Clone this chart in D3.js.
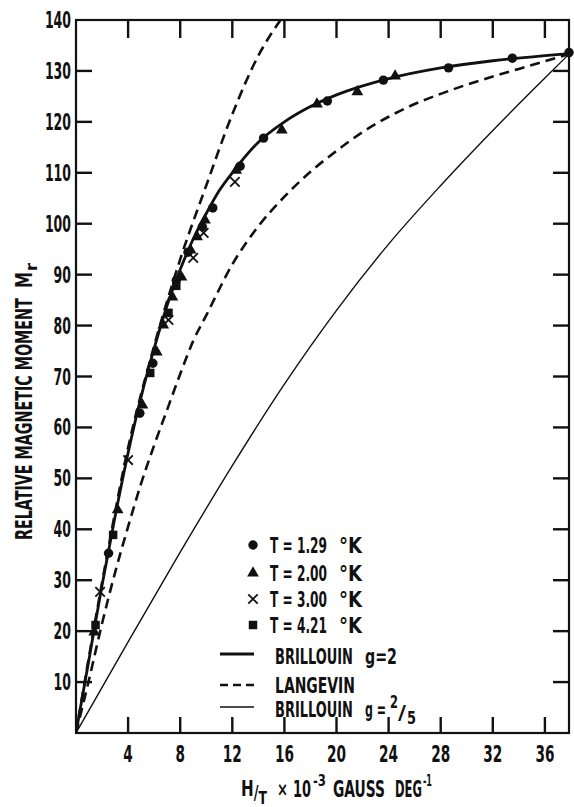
<!DOCTYPE html>
<html>
<head>
<meta charset="utf-8">
<script src="https://cdn.jsdelivr.net/npm/d3@7"></script>
<style>
  body { margin: 0; background: #fff; }
  text { font-family: "DejaVu Sans Condensed", "DejaVu Sans", sans-serif; font-weight: bold; fill: #111; }
</style>
</head>
<body>
<div id="chart"></div>
<script>
// tick values
const xTicks = [4, 8, 12, 16, 20, 24, 28, 32, 36];
const yTicks = [10, 20, 30, 40, 50, 60, 70, 80, 90, 100, 110, 120, 130, 140];

// theoretical curves
const brillouin2X = [0, 1, 2, 3, 4, 5, 6, 7, 8, 9, 10, 11, 12, 14, 16, 18, 20, 24, 28, 32, 36, 37.85];
const brillouin2Y = [0, 14.5, 29, 42.5, 55, 66, 75.5, 84, 91, 97, 102, 106.5, 110, 116, 120, 123, 125.3, 128.5, 130.6, 132, 133, 133.4];

const steepDashX = [0, 2, 4, 6, 8, 10, 12, 14, 15.7];
const steepDashY = [0, 29.5, 56, 76, 93, 107.5, 121.5, 133, 140];

const langevinX = [0, 1, 2, 3, 4, 5, 6, 7, 8, 9, 10, 12, 14, 16, 18, 20, 22, 24, 26, 28, 30, 32, 34, 36, 37.85];
const langevinY = [0, 10.5, 21.5, 31.5, 40.5, 49, 56.5, 63.5, 70.5, 77, 82, 92, 99.5, 105.3, 110.2, 114.3, 118, 121, 123.5, 125.5, 127.3, 128.9, 130.4, 131.9, 133.3];

const brillouin25X = [0, 4, 8, 12, 16, 20, 24, 28, 32, 36, 37.85];
const brillouin25Y = [0, 17.9, 35.5, 52.5, 68.5, 83, 96, 107.5, 118.3, 128.6, 133.3];

// measured points
const t129X = [2.5, 4.9, 5.9, 7.7, 8.6, 9.7, 10.5, 12.6, 14.4, 19.3, 23.6, 28.6, 33.5, 37.85];
const t129Y = [35.3, 62.8, 72.6, 88.9, 94.4, 99.4, 103.1, 111.3, 116.8, 124.1, 128.2, 130.6, 132.5, 133.6];

const t200X = [1.4, 3.2, 5.1, 6.2, 6.7, 7.4, 8.1, 8.8, 9.3, 9.9, 12.3, 15.8, 18.5, 21.6, 24.5];
const t200Y = [19.8, 43.8, 64.4, 74.8, 80.1, 85.6, 89.5, 94.8, 97.4, 100.7, 110.5, 118.4, 123.5, 125.9, 129.0];

const t300X = [1.85, 4.0, 7.1, 9.0, 9.8, 12.2];
const t300Y = [27.7, 53.6, 81.1, 93.3, 98.2, 108.2];

const t421X = [1.5, 2.85, 5.7, 7.1, 7.7];
const t421Y = [21.2, 38.9, 70.7, 82.5, 87.8];

const legendTemps = ["T = 1.29", "T = 2.00", "T = 3.00", "T = 4.21"];

const width = 574, height = 807;
const plotL = 76, plotR = 569, plotT = 20, plotB = 733;

const svg = d3.select("#chart").append("svg")
    .attr("width", width)
    .attr("height", height);

const x = d3.scaleLinear().domain([0, 37.85]).range([plotL, plotR]);
const y = d3.scaleLinear().domain([0, 140]).range([plotB, plotT]);

const zip = (xs, ys) => xs.map((v, i) => [v, ys[i]]);

// narrow lettering: put the text at (px,py) and squeeze it to width w
const label = (g, str, px, py, size, w, anchor = "start") => {
    const t = g.append("text")
        .attr("text-anchor", anchor)
        .style("font-size", size + "px")
        .text(str);
    const L = t.node().getComputedTextLength();
    t.attr("transform", `translate(${px},${py}) scale(${w / L},1)`);
    return t;
};

// inward ticks on all four sides
const tickLen = 16;
const ticks = svg.append("g");
const tick = (x1, y1, x2, y2) => ticks.append("line")
    .attr("x1", x1).attr("y1", y1).attr("x2", x2).attr("y2", y2)
    .attr("stroke", "#111").attr("stroke-width", 2.4);
xTicks.forEach(v => {
    tick(x(v), plotB, x(v), plotB - tickLen);
    tick(x(v), plotT, x(v), plotT + tickLen + 2);
});
yTicks.slice(0, -1).forEach(v => {
    tick(plotL, y(v), plotL + tickLen, y(v));
    tick(plotR, y(v), plotR - tickLen, y(v));
});

// tick labels
const tickLabels = svg.append("g");
xTicks.forEach(v => label(tickLabels, String(v), x(v), plotB + 29, 23, String(v).length * 9.5, "middle"));
yTicks.forEach(v => label(tickLabels, String(v), plotL - 5, y(v) + 8, 23, String(v).length * 8.7, "end"));

// frame
svg.append("rect")
    .attr("x", plotL).attr("y", plotT)
    .attr("width", plotR - plotL).attr("height", plotB - plotT)
    .attr("fill", "none")
    .attr("stroke", "#111")
    .attr("stroke-width", 2.2);

// curves
const line = d3.line()
    .x(d => x(d[0]))
    .y(d => y(d[1]))
    .curve(d3.curveMonotoneX);

svg.append("clipPath").attr("id", "clip")
    .append("rect")
    .attr("x", plotL).attr("y", plotT)
    .attr("width", plotR - plotL).attr("height", plotB - plotT);

const curves = svg.append("g").attr("clip-path", "url(#clip)");

curves.append("path")
    .attr("d", line(zip(brillouin25X, brillouin25Y)))
    .attr("fill", "none").attr("stroke", "#111").attr("stroke-width", 1.4);

curves.append("path")
    .attr("d", line(zip(langevinX, langevinY)))
    .attr("fill", "none").attr("stroke", "#111").attr("stroke-width", 2.6)
    .attr("stroke-dasharray", "10,6");

curves.append("path")
    .attr("d", line(zip(steepDashX, steepDashY)))
    .attr("fill", "none").attr("stroke", "#111").attr("stroke-width", 2.6)
    .attr("stroke-dasharray", "10,6");

curves.append("path")
    .attr("d", line(zip(brillouin2X, brillouin2Y)))
    .attr("fill", "none").attr("stroke", "#111").attr("stroke-width", 2.8);

// markers
const symbols = [
    { xs: t129X, ys: t129Y, type: d3.symbolCircle, size: 70, stroke: false },
    { xs: t200X, ys: t200Y, type: d3.symbolTriangle, size: 60, stroke: false },
    { xs: t300X, ys: t300Y, type: d3.symbolTimes, size: 60, stroke: true },
    { xs: t421X, ys: t421Y, type: d3.symbolSquare, size: 72, stroke: false }
];

const drawSymbol = (g, s, px, py) => {
    g.append("path")
        .attr("transform", `translate(${px},${py})`)
        .attr("d", d3.symbol().type(s.type).size(s.size)())
        .attr("fill", s.stroke ? "none" : "#111")
        .attr("stroke", s.stroke ? "#111" : "none")
        .attr("stroke-width", 1.8);
};

symbols.forEach(s => {
    zip(s.xs, s.ys).forEach(d => drawSymbol(svg, s, x(d[0]), y(d[1])));
});

// legend
const legend = svg.append("g");
const legendY = [545, 573, 599, 625];
symbols.forEach((s, i) => {
    drawSymbol(legend, s, 253, legendY[i]);
    label(legend, legendTemps[i], 270, legendY[i] + 8, 22, 57);
    label(legend, "°K", 339, legendY[i] + 8, 22, 23);
});

const lineRows = [
    { y: 654, w: 2.8, dash: null },
    { y: 685, w: 2.4, dash: "8,5" },
    { y: 707, w: 1.4, dash: null }
];
lineRows.forEach(r => {
    legend.append("line")
        .attr("x1", 220).attr("x2", 254)
        .attr("y1", r.y).attr("y2", r.y)
        .attr("stroke", "#111").attr("stroke-width", r.w)
        .attr("stroke-dasharray", r.dash);
});

label(legend, "BRILLOUIN", 275, 664, 22, 78);
label(legend, "g=2", 365, 664, 22, 32);
label(legend, "LANGEVIN", 275, 693, 22, 80);
label(legend, "BRILLOUIN", 275, 717, 22, 78);
label(legend, "g =", 365, 717, 22, 21);
label(legend, "2", 390, 708, 18, 8);
label(legend, "/", 398, 719, 20, 8);
label(legend, "5", 407, 724, 18, 9);

// y axis title
const yTitle = svg.append("g").attr("transform", "translate(32,540) rotate(-90)");
label(yTitle, "RELATIVE MAGNETIC MOMENT", 0, 0, 23, 242);
label(yTitle, "M", 252, 0, 23, 16);
label(yTitle, "r", 269, 5, 16, 8);

// x axis title: H/T as one text with a lowered T
const ht = svg.append("text").style("font-size", "22px");
ht.append("tspan").text("H");
ht.append("tspan").attr("dy", 3).style("font-size", "19px").text("/");
ht.append("tspan").attr("dy", 5).style("font-size", "18px").text("T");
const htL = ht.node().getComputedTextLength();
ht.attr("transform", `translate(241,796) scale(${26 / htL},1)`);

const xt = svg.append("g");
label(xt, "×", 277, 796, 20, 11);
label(xt, "10", 293, 797, 23, 18);
label(xt, "-3", 313, 786, 15, 13);
label(xt, "GAUSS", 333, 797, 23, 52);
label(xt, "DEG", 395, 797, 23, 27);
label(xt, "-1", 423, 786, 15, 9);
</script>
</body>
</html>
